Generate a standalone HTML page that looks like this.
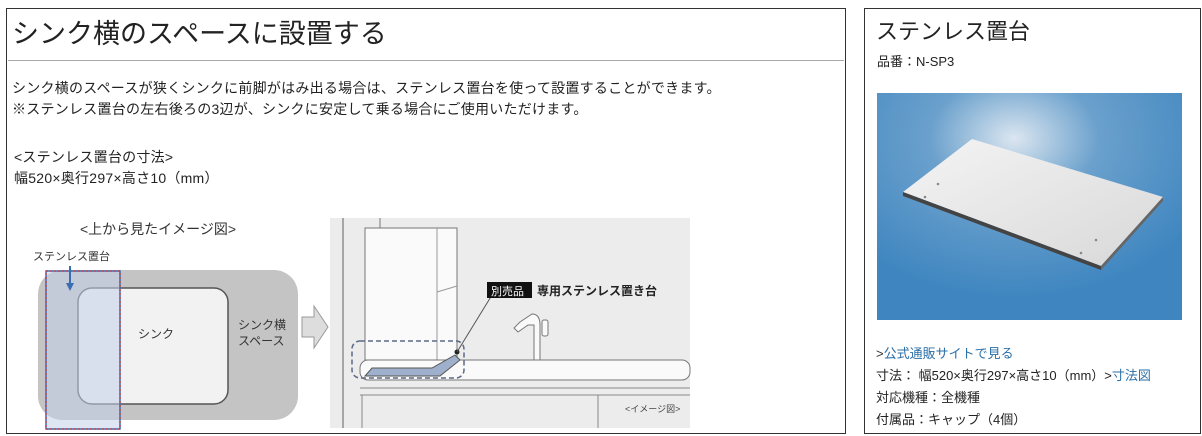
<!DOCTYPE html>
<html><head><meta charset="utf-8"><style>
body{margin:0;width:1202px;height:436px;background:#fff;position:relative;overflow:hidden;font-family:"Liberation Sans","Noto Sans CJK JP",sans-serif;color:#222}
.a{position:absolute;white-space:nowrap}
</style></head><body>
<div class="a" style="left:6px;top:8px;width:838px;height:424px;border:1px solid #333"></div>
<div class="a" style="left:864px;top:8px;width:335px;height:424px;border:1px solid #333"></div>
<div class="a" style="left:12px;top:12px;font-size:27px;color:#222">シンク横のスペースに設置する</div>
<div class="a" style="left:8px;top:60px;width:836px;height:1px;background:#aaa"></div>
<div class="a" style="left:12px;top:78px;font-size:14px;line-height:21px;letter-spacing:0.25px">シンク横のスペースが狭くシンクに前脚がはみ出る場合は、ステンレス置台を使って設置することができます。<br>※ステンレス置台の左右後ろの3辺が、シンクに安定して乗る場合にご使用いただけます。</div>
<div class="a" style="left:14px;top:147px;font-size:14px;line-height:21px;letter-spacing:0.25px">&lt;ステンレス置台の寸法&gt;<br>幅520×奥行297×高さ10（mm）</div>

<svg class="a" style="left:0;top:200px" width="845" height="232">
<text x="158" y="34" font-size="14" text-anchor="middle" fill="#333" font-family="Liberation Sans,Noto Sans CJK JP,sans-serif">&lt;上から見たイメージ図&gt;</text>
<text x="33" y="60" font-size="11" fill="#333" font-family="Liberation Sans,Noto Sans CJK JP,sans-serif">ステンレス置台</text>
<rect x="38" y="70" width="260" height="150" rx="24" fill="#c4c4c4"/>
<rect x="78" y="88" width="150" height="116" rx="14" fill="#f2f2f2" stroke="#555" stroke-width="1.5"/>
<rect x="46" y="71" width="74" height="158" fill="#c4d2ea" fill-opacity="0.55" stroke="#3a6eb0" stroke-width="1.5"/>
<rect x="46" y="71" width="74" height="158" fill="none" stroke="#d03040" stroke-width="1.2" stroke-dasharray="2,2"/>
<line x1="70" y1="66" x2="70" y2="84" stroke="#3a6eb0" stroke-width="2"/>
<polygon points="66,83 74,83 70,91" fill="#3a6eb0"/>
<text x="138" y="138" font-size="12" fill="#333" font-family="Liberation Sans,Noto Sans CJK JP,sans-serif">シンク</text>
<text x="238" y="129" font-size="12" fill="#333" font-family="Liberation Sans,Noto Sans CJK JP,sans-serif">シンク横</text>
<text x="238" y="145" font-size="12" fill="#333" font-family="Liberation Sans,Noto Sans CJK JP,sans-serif">スペース</text>
<polygon points="302,117 314,117 314,106 328,127 314,148 314,137 302,137" fill="#ddd" stroke="#999"/>
<rect x="330" y="18" width="360" height="210" fill="#ececec"/>
<line x1="343" y1="18" x2="343" y2="228" stroke="#777" stroke-width="1.2"/>
<line x1="380" y1="18" x2="380" y2="30" stroke="#777"/>
<rect x="365" y="28" width="92" height="132" fill="#fafafa" stroke="#777"/>
<line x1="437" y1="28" x2="437" y2="160" stroke="#999"/>
<line x1="437" y1="92" x2="457" y2="86" stroke="#999"/>
<rect x="360" y="160" width="330" height="20" rx="8" fill="#fafafa" stroke="#777"/>
<line x1="360" y1="188" x2="690" y2="188" stroke="#888"/>
<line x1="360" y1="195" x2="690" y2="195" stroke="#888"/>
<line x1="362" y1="195" x2="362" y2="228" stroke="#888"/>
<line x1="598" y1="195" x2="598" y2="228" stroke="#888"/>
<path d="M540 160 V125 Q540 114 532 114 L520 122 L514 128 L518 132 L528 125 L534 125 V160 Z" fill="#fafafa" stroke="#777"/>
<rect x="542" y="120" width="6" height="16" rx="2" fill="#fafafa" stroke="#777"/>
<polygon points="365,176 372,168 432,168 455,155 460,160 440,176" fill="#9fb0cc" stroke="#555"/>
<rect x="352" y="141" width="112" height="37" rx="8" fill="none" stroke="#5a6a88" stroke-width="1.5" stroke-dasharray="5,3"/>
<circle cx="457" cy="152" r="2.5" fill="#222"/>
<line x1="457" y1="152" x2="492" y2="95" stroke="#555"/>
<rect x="487" y="82" width="45" height="16" fill="#111"/>
<text x="491" y="95" font-size="11" fill="#fff" font-family="Liberation Sans,Noto Sans CJK JP,sans-serif">別売品</text>
<text x="537" y="95" font-size="12" fill="#222" font-weight="bold" font-family="Liberation Sans,Noto Sans CJK JP,sans-serif">専用ステンレス置き台</text>
<text x="625" y="212" font-size="9" fill="#444" font-family="Liberation Sans,Noto Sans CJK JP,sans-serif">&lt;イメージ図&gt;</text>
</svg>

<div class="a" style="left:876px;top:14px;font-size:22px">ステンレス置台</div>
<div class="a" style="left:877px;top:51px;font-size:13px">品番：N-SP3</div>
<svg class="a" style="left:877px;top:93px" width="305" height="227">
<defs><radialGradient id="g" cx="0.45" cy="0.2" r="0.7"><stop offset="0" stop-color="#dbe6f0"/><stop offset="0.4" stop-color="#6aa0cc"/><stop offset="1" stop-color="#3f86c0"/></radialGradient>
<linearGradient id="p" x1="0" y1="0" x2="1" y2="1"><stop offset="0" stop-color="#f4f4f4"/><stop offset="1" stop-color="#d8d8d8"/></linearGradient></defs>
<rect width="305" height="227" fill="url(#g)"/>
<polygon points="26,99 95,46 286,104 224,173" fill="url(#p)"/>
<polygon points="26,99 224,173 224,177 26,103" fill="#444"/>
<polygon points="224,173 286,104 286,108 224,177" fill="#666"/>
<circle cx="61" cy="91" r="1.3" fill="#888"/><circle cx="48" cy="104" r="1.3" fill="#888"/>
<circle cx="219" cy="147" r="1.3" fill="#888"/><circle cx="204" cy="160" r="1.3" fill="#888"/>
</svg>
<div class="a" style="left:876px;top:343px;font-size:13px;line-height:22px"><span style="color:#333">&gt;</span><span style="color:#2a6fa8">公式通販サイトで見る</span><br>寸法： 幅520×奥行297×高さ10（mm）&gt;<span style="color:#2a6fa8">寸法図</span><br>対応機種：全機種<br>付属品：キャップ（4個）</div>
</body></html>
